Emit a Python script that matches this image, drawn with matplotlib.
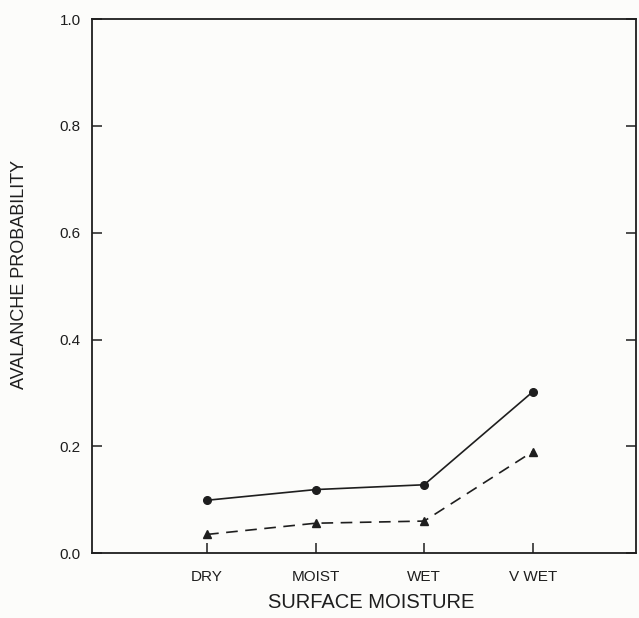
import matplotlib
matplotlib.use("Agg")
import matplotlib.pyplot as plt

# Chart data
categories = ["DRY", "MOIST", "WET", "V WET"]
prob_solid = [0.099, 0.119, 0.128, 0.302]     # circles, solid line
prob_dashed = [0.035, 0.056, 0.060, 0.190]    # triangles, dashed line
y_ticks = [0.0, 0.2, 0.4, 0.6, 0.8, 1.0]

ink = "#1e1e1e"
paper = "#fcfcfa"

plt.rcParams['font.family'] = ['Liberation Sans', 'DejaVu Sans']

fig = plt.figure(figsize=(6.39, 6.18), dpi=100, facecolor=paper)
ax = fig.add_axes([0.144, 0.105, 0.851, 0.864], facecolor=paper)

x = list(range(len(categories)))
ax.plot(x, prob_solid, color=ink, lw=1.2, marker="o", ms=5.5)
ax.plot(x, prob_dashed, color=ink, lw=1.2, marker="^", ms=5.5,
        linestyle=(0, (7, 4.5)))

ax.set_xlim(-1.06, 3.95)
ax.set_ylim(0, 1.0)
ax.set_xticks(x)
ax.set_xticklabels(categories)
ax.set_yticks(y_ticks)
ax.set_yticklabels(["%.1f" % v for v in y_ticks])

ax.tick_params(direction="in", length=7, width=1.1, colors=ink,
               labelsize=11, right=True)
ax.tick_params(axis="x", pad=12)
ax.tick_params(axis="y", pad=8)
for s in ax.spines.values():
    s.set_color(ink)
    s.set_linewidth(1.3)

ax.set_xlabel("SURFACE MOISTURE", fontsize=14.5, color=ink)
ax.xaxis.set_label_coords(0.513, -0.075)
ax.set_ylabel("AVALANCHE PROBABILITY", fontsize=13, color=ink)
ax.yaxis.set_label_coords(-0.117, 0.522)

fig.savefig("out.png", dpi=100, facecolor=paper)
